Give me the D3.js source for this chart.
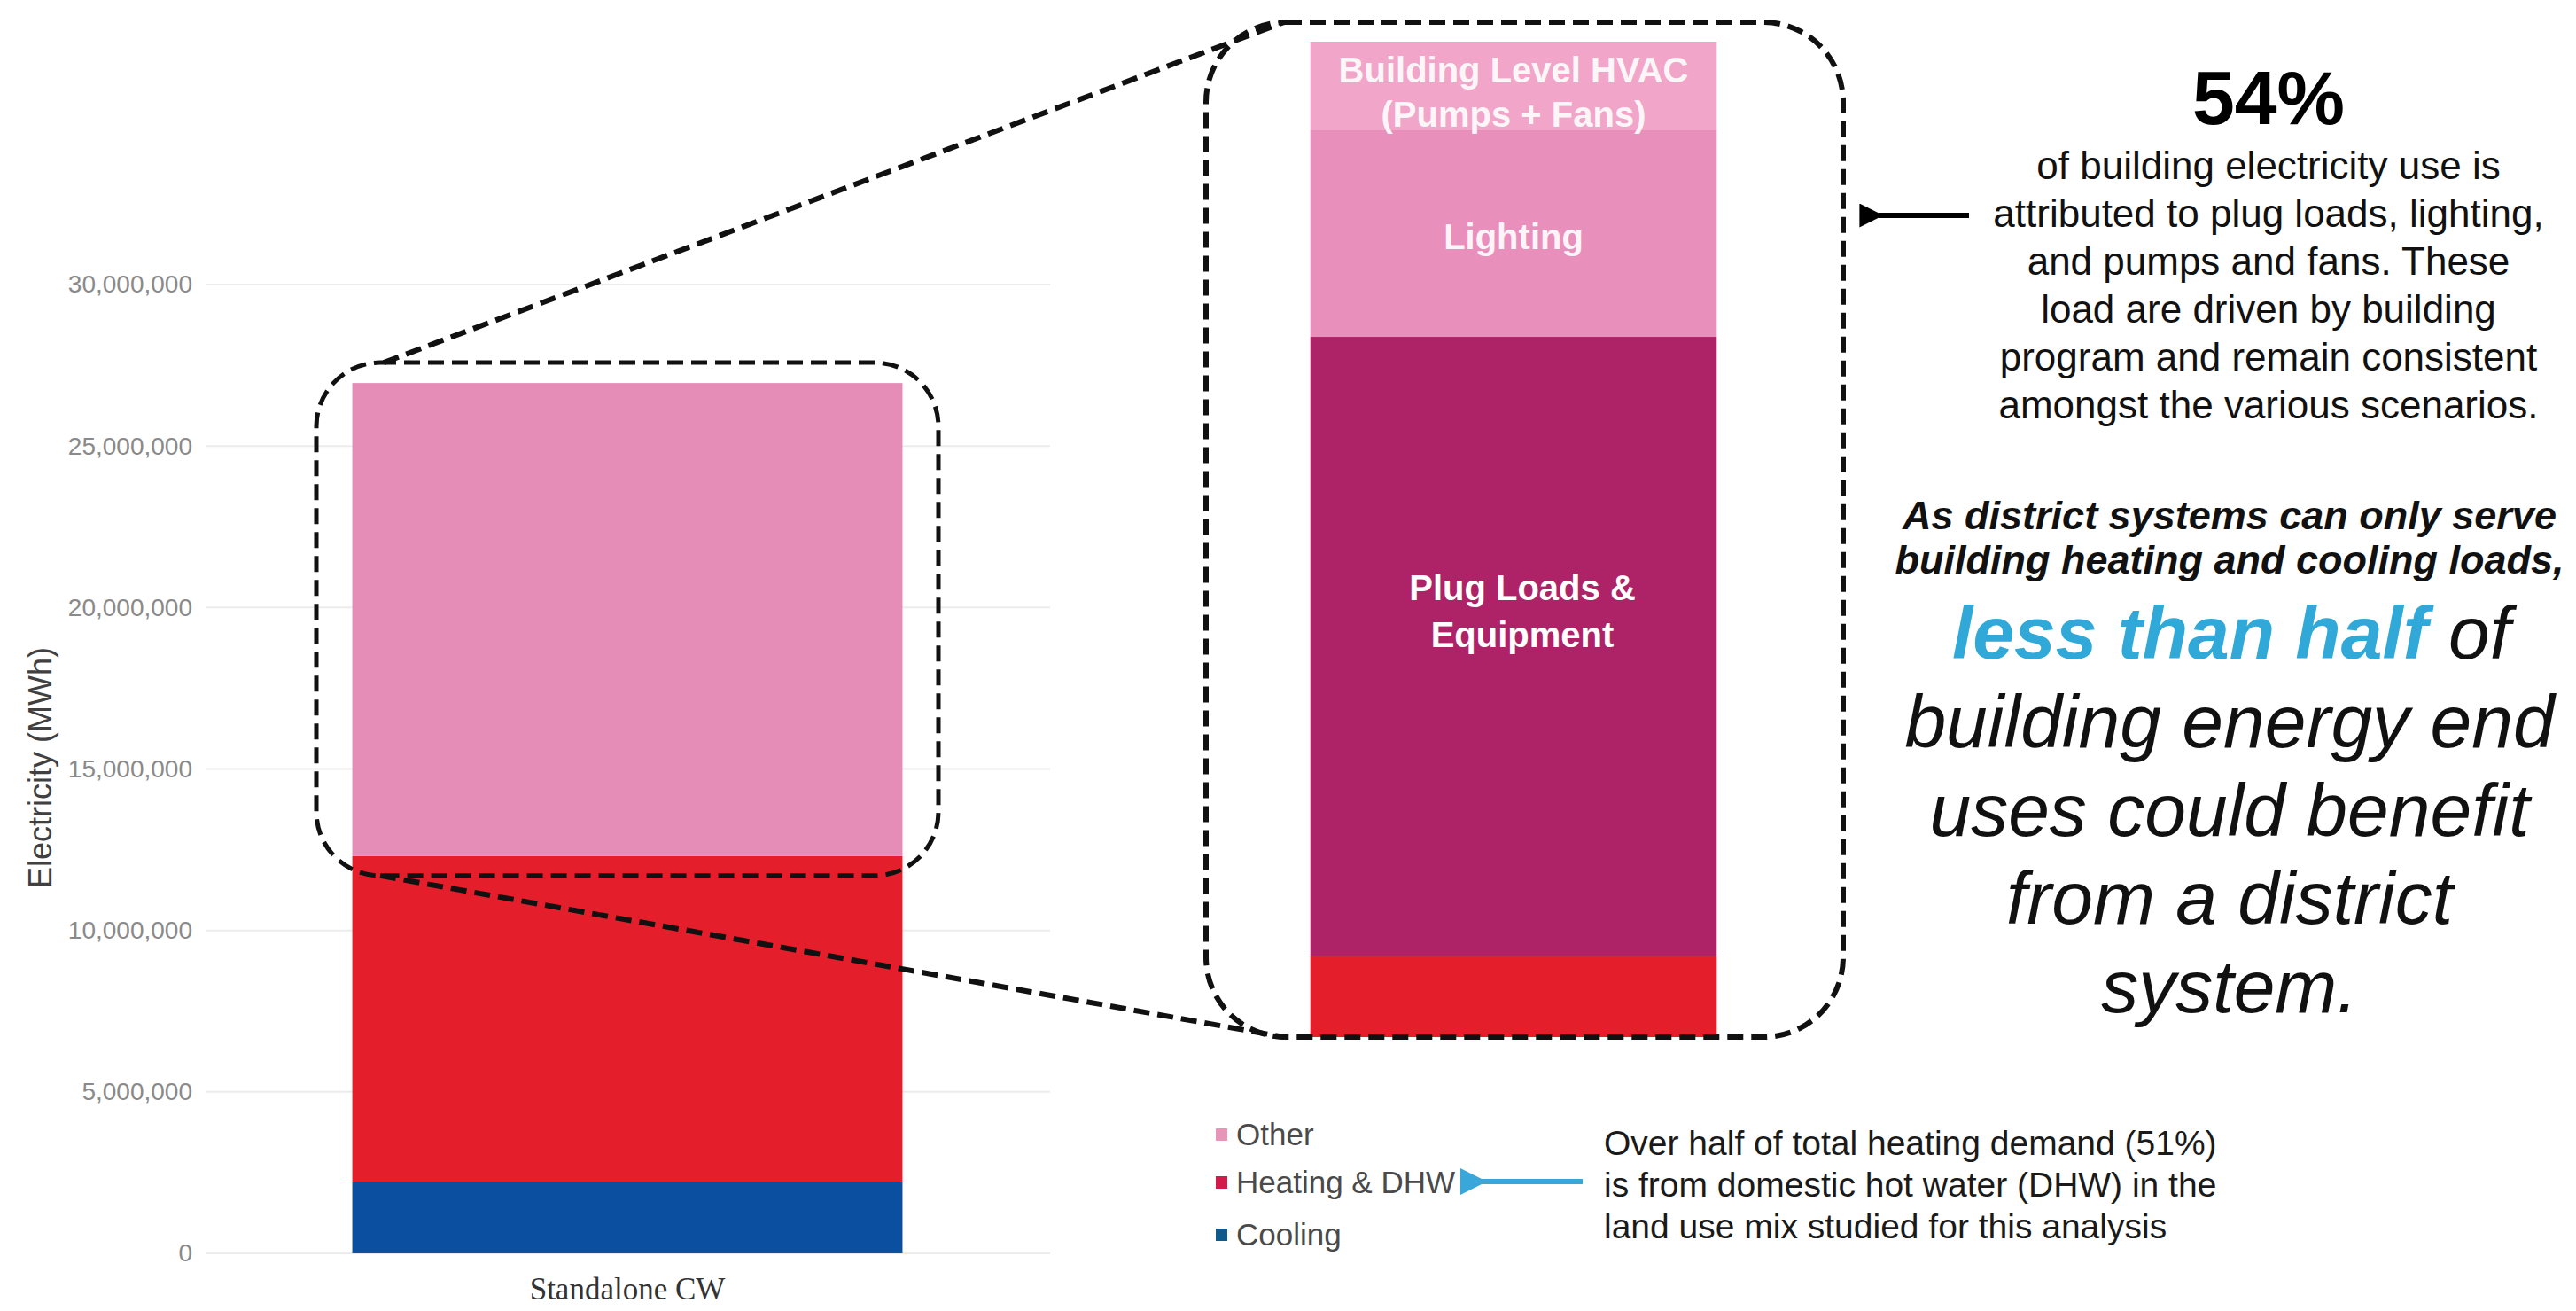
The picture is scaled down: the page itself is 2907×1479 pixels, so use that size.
<!DOCTYPE html>
<html>
<head>
<meta charset="utf-8">
<script src="https://cdn.jsdelivr.net/npm/d3@7/dist/d3.min.js"></script>
<style>
  html, body { margin: 0; padding: 0; background: #ffffff; }
  svg { display: block; }
</style>
</head>
<body>
<svg id="chart" width="2907" height="1479" font-family="'Liberation Sans', Arial, Helvetica, sans-serif"></svg>
<script>
// ---------------- DATA ----------------
const categories = ["Standalone CW"];
const seriesNames = ["Cooling", "Heating & DHW", "Other"];
const seriesValues = [2200000, 10100000, 14650000];          // MWh, stacked bottom -> top
const otherBreakdownNames = ["Plug Loads & Equipment", "Lighting", "Building Level HVAC (Pumps + Fans)"];
const otherBreakdownValues = [9920000, 3310000, 1420000];    // MWh, stacked bottom -> top
const zoomWindowStart = 11000000;                            // lowest value shown in the magnified bar
const yTicks = [0, 5000000, 10000000, 15000000, 20000000, 25000000, 30000000];
const legendNames = ["Other", "Heating & DHW", "Cooling"];
const yAxisTitle = "Electricity (MWh)";
const headline = "54%";
const headlineLines = ["of building electricity use is", "attributed to plug loads, lighting,",
  "and pumps and fans. These", "load are driven by building",
  "program and remain consistent", "amongst the various scenarios."];
const boldItalicLines = ["As district systems can only serve", "building heating and cooling loads,"];
const bigItalicLines = ["building energy end", "uses could benefit", "from a district", "system."];
const dhwNoteLines = ["Over half of total heating demand (51%)", "is from domestic hot water (DHW) in the",
  "land use mix studied for this analysis"];

// ---------------- STYLES ----------------
const seriesColors = { "Cooling": "#0b4fa1", "Heating & DHW": "#e41f2b", "Other": "#e68db7" };
const legendColors = { "Other": "#e795b8", "Heating & DHW": "#d2194b", "Cooling": "#0e5a8c" };
const breakdownColors = { "Plug Loads & Equipment": "#ae2367", "Lighting": "#e98fbb",
  "Building Level HVAC (Pumps + Fans)": "#f1a5c8" };

const svg = d3.select("#chart");

// ---------------- MAIN BAR CHART ----------------
const y = d3.scaleLinear().domain([0, 30000000]).range([1414, 321]);
const x = d3.scaleBand().domain(categories).range([292, 1124]).paddingInner(0).paddingOuter(0.17);

// gridlines
svg.append("g").selectAll("line").data(yTicks).join("line")
  .attr("x1", 232).attr("x2", 1185)
  .attr("y1", d => y(d)).attr("y2", d => y(d))
  .attr("stroke", "#ececec").attr("stroke-width", 2);

// y axis (labels only)
const yAxis = d3.axisLeft(y).tickValues(yTicks).tickSize(0).tickPadding(0)
  .tickFormat(d3.format(","));
const gy = svg.append("g").attr("transform", "translate(217,0)").call(yAxis);
gy.select(".domain").remove();
gy.selectAll("text").attr("font-size", 28).attr("fill", "#8a8a8a")
  .attr("font-family", "'Liberation Sans', Arial, sans-serif");

svg.append("text").attr("transform", "translate(58,866) rotate(-90)")
  .attr("text-anchor", "middle").attr("font-size", 36).attr("fill", "#404040")
  .text(yAxisTitle);

// x axis (category label)
const xAxis = d3.axisBottom(x).tickSize(0).tickPadding(0);
const gx = svg.append("g").attr("transform", "translate(0,1440)").call(xAxis);
gx.select(".domain").remove();
gx.selectAll("text").attr("font-size", 35).attr("fill", "#333")
  .attr("font-family", "'Liberation Serif', 'Times New Roman', serif").attr("dy", "0.75em");

// stacked bar
const cum = d3.cumsum(seriesValues);
const segs = seriesNames.map((n, i) => ({ name: n, y0: cum[i] - seriesValues[i], y1: cum[i] }));
svg.append("g").selectAll("rect").data(segs).join("rect")
  .attr("x", x(categories[0])).attr("width", x.bandwidth())
  .attr("y", d => y(d.y1)).attr("height", d => y(d.y0) - y(d.y1))
  .attr("fill", d => seriesColors[d.name]);

// ---------------- MAGNIFIED BAR ----------------
const total = cum[cum.length - 1];
const otherStart = cum[1];
const yz = d3.scaleLinear().domain([zoomWindowStart, total]).range([1170, 47]).clamp(true);
const xz = d3.scaleBand().domain(categories).range([1387, 2029]).paddingOuter(0.2).paddingInner(0);

const bcum = d3.cumsum(otherBreakdownValues);
const zsegs = [{ name: "Heating & DHW", y0: segs[1].y0, y1: segs[1].y1, color: seriesColors["Heating & DHW"] }]
  .concat(otherBreakdownNames.map((n, i) => ({
    name: n, y0: otherStart + bcum[i] - otherBreakdownValues[i], y1: otherStart + bcum[i], color: breakdownColors[n]
  })));
svg.append("g").selectAll("rect").data(zsegs).join("rect")
  .attr("x", xz(categories[0])).attr("width", xz.bandwidth())
  .attr("y", d => yz(d.y1)).attr("height", d => yz(d.y0) - yz(d.y1))
  .attr("fill", d => d.color);

// segment labels
const cx = xz(categories[0]) + xz.bandwidth() / 2;
const lab = svg.append("g").attr("fill", "#ffffff").attr("font-weight", "bold")
  .attr("text-anchor", "middle").attr("font-size", 40);
const hvac = zsegs[3], light = zsegs[2], plug = zsegs[1];
lab.append("text").attr("x", cx).attr("y", yz(hvac.y1) + 46).attr("opacity", 0.9).text("Building Level HVAC");
lab.append("text").attr("x", cx).attr("y", yz(hvac.y1) + 96).attr("opacity", 0.9).text("(Pumps + Fans)");
lab.append("text").attr("x", cx).attr("y", (yz(light.y0) + yz(light.y1)) / 2 + 17).attr("opacity", 0.9).text("Lighting");
lab.append("text").attr("x", cx + 10).attr("y", yz(plug.y1) + 297).text("Plug Loads &");
lab.append("text").attr("x", cx + 10).attr("y", yz(plug.y1) + 350).text("Equipment");

// ---------------- DASHED CALLOUT ----------------
const dash = svg.append("g").attr("fill", "none").attr("stroke", "#111")
  .attr("stroke-dasharray", "18,9");
const sb = { x0: 357, x1: 1059, y0: y(total) - 23, y1: y(otherStart) + 22 };
dash.append("rect").attr("x", sb.x0).attr("y", sb.y0).attr("width", sb.x1 - sb.x0)
  .attr("height", sb.y1 - sb.y0).attr("rx", 72).attr("ry", 72).attr("stroke-width", 5);
const bb = { x0: 1361, x1: 2080, y0: 25, y1: 1170 };
dash.append("rect").attr("x", bb.x0).attr("y", bb.y0).attr("width", bb.x1 - bb.x0)
  .attr("height", bb.y1 - bb.y0).attr("rx", 90).attr("ry", 90).attr("stroke-width", 6);
dash.append("line").attr("x1", sb.x0 + 76).attr("y1", sb.y0).attr("x2", bb.x0 + 88).attr("y2", bb.y0)
  .attr("stroke-width", 6);
dash.append("line").attr("x1", sb.x0 + 72).attr("y1", sb.y1).attr("x2", bb.x0 + 88).attr("y2", bb.y1)
  .attr("stroke-width", 6);

// ---------------- LEGEND ----------------
const leg = svg.append("g").attr("transform", "translate(1372,1280)");
const li = leg.selectAll("g").data(legendNames).join("g")
  .attr("transform", (d, i) => `translate(0,${[0, 54, 113][i]})`);
li.append("rect").attr("x", 0).attr("y", -7).attr("width", 13).attr("height", 14)
  .attr("fill", d => legendColors[d]);
li.append("text").attr("x", 23).attr("y", 12).attr("font-size", 35).attr("fill", "#4a4a4a").text(d => d);

// blue arrow
const defs = svg.append("defs");
defs.append("marker").attr("id", "bluehead").attr("viewBox", "0 0 10 10").attr("refX", 2).attr("refY", 5)
  .attr("markerWidth", 5).attr("markerHeight", 5).attr("orient", "auto")
  .append("path").attr("d", "M10,0 L0,5 L10,10 Z").attr("fill", "#3aa7db");
svg.append("line").attr("x1", 1786).attr("y1", 1333).attr("x2", 1672).attr("y2", 1333)
  .attr("stroke", "#3aa7db").attr("stroke-width", 6).attr("marker-end", "url(#bluehead)");

svg.append("g").selectAll("text").data(dhwNoteLines).join("text")
  .attr("x", 1810).attr("y", (d, i) => 1303 + i * 47).attr("font-size", 39).attr("fill", "#1a1a1a")
  .text(d => d);

// ---------------- RIGHT ANNOTATIONS ----------------
defs.append("marker").attr("id", "blackhead").attr("viewBox", "0 0 10 10").attr("refX", 2).attr("refY", 5)
  .attr("markerWidth", 5).attr("markerHeight", 4.5).attr("orient", "auto")
  .append("path").attr("d", "M10,0 L0,5 L10,10 Z").attr("fill", "#000");
svg.append("line").attr("x1", 2222).attr("y1", 243).attr("x2", 2120).attr("y2", 243)
  .attr("stroke", "#000").attr("stroke-width", 6).attr("marker-end", "url(#blackhead)");

svg.append("text").attr("x", 2560).attr("y", 140).attr("text-anchor", "middle")
  .attr("font-size", 86).attr("font-weight", "bold").attr("fill", "#000").text(headline);
svg.append("g").selectAll("text").data(headlineLines).join("text")
  .attr("x", 2560).attr("y", (d, i) => 202 + i * 54).attr("text-anchor", "middle")
  .attr("font-size", 44).attr("fill", "#111").text(d => d);

svg.append("g").selectAll("text").data(boldItalicLines).join("text")
  .attr("x", 2516).attr("y", (d, i) => 597 + i * 50).attr("text-anchor", "middle")
  .attr("font-size", 45).attr("font-weight", "bold").attr("font-style", "italic").attr("fill", "#111")
  .text(d => d);

const lth = svg.append("text").attr("x", 2518).attr("y", 743).attr("text-anchor", "middle")
  .attr("font-size", 84).attr("font-style", "italic");
lth.append("tspan").attr("font-weight", "bold").attr("fill", "#30a9d9").text("less than half");
lth.append("tspan").attr("fill", "#111").text(" of");

svg.append("g").selectAll("text").data(bigItalicLines).join("text")
  .attr("x", 2516).attr("y", (d, i) => 843 + i * 99.5).attr("text-anchor", "middle")
  .attr("font-size", 84).attr("font-style", "italic").attr("fill", "#111").text(d => d);
</script>
</body>
</html>
